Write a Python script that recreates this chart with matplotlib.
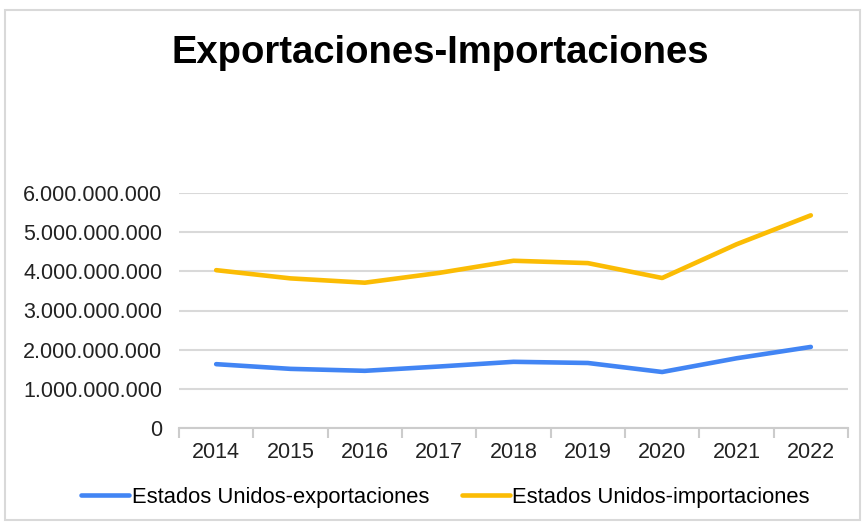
import matplotlib.pyplot as plt
from matplotlib.patches import Rectangle
from matplotlib.ticker import FuncFormatter

plt.rcParams['font.family'] = ['Liberation Sans', 'DejaVu Sans']

years = ['2014', '2015', '2016', '2017', '2018', '2019', '2020', '2021', '2022']
exportaciones = [1.63e9, 1.51e9, 1.46e9, 1.57e9, 1.69e9, 1.66e9, 1.43e9, 1.78e9, 2.07e9]
importaciones = [4.03e9, 3.82e9, 3.71e9, 3.96e9, 4.27e9, 4.21e9, 3.83e9, 4.69e9, 5.43e9]
series_names = ['Estados Unidos-exportaciones', 'Estados Unidos-importaciones']

fig = plt.figure(figsize=(8.65, 5.26), dpi=100)
# light border around the chart
fig.patches.append(Rectangle((5 / 865, 1 - 520 / 526), 855 / 865, 510 / 526,
                             transform=fig.transFigure, fill=False,
                             edgecolor='#d9d9d9', linewidth=1.5))

ax = fig.add_axes([179 / 865, 1 - 428 / 526, (848 - 179) / 865, (428 - 193) / 526])

x = range(len(years))
ax.plot(x, exportaciones, color='#4285F4', linewidth=3.3, label=series_names[0],
        solid_capstyle='round', solid_joinstyle='round')
ax.plot(x, importaciones, color='#FBBC04', linewidth=3.3, label=series_names[1],
        solid_capstyle='round', solid_joinstyle='round')

ax.set_xlim(-0.5, len(years) - 0.5)
ax.set_ylim(0, 6e9)
ax.set_yticks([i * 1e9 for i in range(7)])
ax.yaxis.set_major_formatter(FuncFormatter(lambda v, p: f'{int(v):,}'.replace(',', '.')))
ax.set_xticks(list(x))
ax.set_xticklabels(years)
ax.set_xticks([i + 0.5 for i in range(-1, len(years))], minor=True)

ax.grid(axis='y', color='#d9d9d9', linewidth=1.5)
ax.set_axisbelow(True)
for s in ['top', 'right', 'left']:
    ax.spines[s].set_visible(False)
ax.spines['bottom'].set_color('#cccccc')
ax.spines['bottom'].set_linewidth(1.5)

ax.tick_params(axis='y', length=0, labelsize=15.5, pad=12, labelcolor='#222222')
ax.tick_params(axis='x', which='major', length=0, labelsize=15.5, pad=10, labelcolor='#222222')
ax.tick_params(axis='x', which='minor', length=7, width=1.5, color='#cccccc')

fig.text(440 / 865, 1 - 53 / 526, 'Exportaciones-Importaciones', ha='center', va='center',
         fontsize=27.5, fontweight='bold', color='black')

fig.legend(loc='center', bbox_to_anchor=(0.5 + 13 / 865, 1 - 497 / 526), ncol=2, frameon=False,
           fontsize=15.8, handlelength=2.2, handletextpad=0.1, columnspacing=1.5)

fig.savefig('out.png', dpi=100)
